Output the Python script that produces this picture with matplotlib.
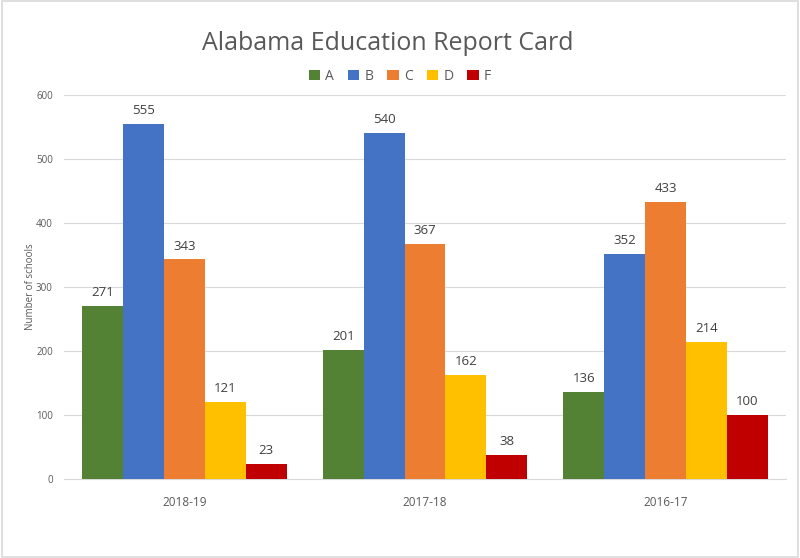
import matplotlib
matplotlib.use("Agg")
import matplotlib.pyplot as plt
import numpy as np

categories = ["2018-19", "2017-18", "2016-17"]
grades = ["A", "B", "C", "D", "F"]
values = {
    "A": [271, 201, 136],
    "B": [555, 540, 352],
    "C": [343, 367, 433],
    "D": [121, 162, 214],
    "F": [23, 38, 100],
}
colors = ["#548235", "#4472C4", "#ED7D31", "#FFC000", "#C00000"]

plt.rcParams['font.family'] = ['Open Sans', 'DejaVu Sans']
fig = plt.figure(figsize=(8, 5.58), dpi=100)
ax = fig.add_axes([0.08, 0.1416, 0.9025, 0.6881])

x = np.arange(len(categories))
bw = 0.85 / len(grades)
for i, g in enumerate(grades):
    pos = x - 0.425 + bw * (i + 0.5)
    bars = ax.bar(pos, values[g], width=bw, color=colors[i], label=g, zorder=3)
    for b, v in zip(bars, values[g]):
        ax.annotate(str(v), (b.get_x() + b.get_width() / 2, v), xytext=(0, 5),
                    textcoords="offset points", ha="center", va="bottom",
                    fontsize=9.5, color="#404040")

ax.set_xlim(-0.5, 2.5)
ax.set_ylim(0, 600)
ax.set_yticks(range(0, 601, 100))
ax.set_xticks(x)
ax.set_xticklabels(categories)
ax.yaxis.grid(True, color="#D9D9D9", linewidth=0.8, zorder=0)
for s in ["top", "right", "left"]:
    ax.spines[s].set_visible(False)
ax.spines["bottom"].set_color("#D9D9D9")
ax.tick_params(axis="y", length=0, labelsize=7, colors="#595959", pad=8)
ax.tick_params(axis="x", length=0, labelsize=8.5, colors="#595959", pad=12)
ax.set_ylabel("Number of schools", fontsize=7, color="#595959", labelpad=0)

fig.text(0.485, 0.922, "Alabama Education Report Card", ha="center", va="center",
         fontsize=18, color="#595959")
leg = fig.legend(loc="center", bbox_to_anchor=(0.5, 0.863), ncol=5, frameon=False,
                 fontsize=10, handlelength=0.8, handleheight=0.8, columnspacing=1.0,
                 handletextpad=0.4)
for t in leg.get_texts():
    t.set_color("#595959")

fig.patches.append(plt.Rectangle((0.002, 0.002), 0.996, 0.996, transform=fig.transFigure,
                                 fill=False, edgecolor="#D9D9D9", linewidth=1.2))
fig.savefig("out.png", dpi=100)
